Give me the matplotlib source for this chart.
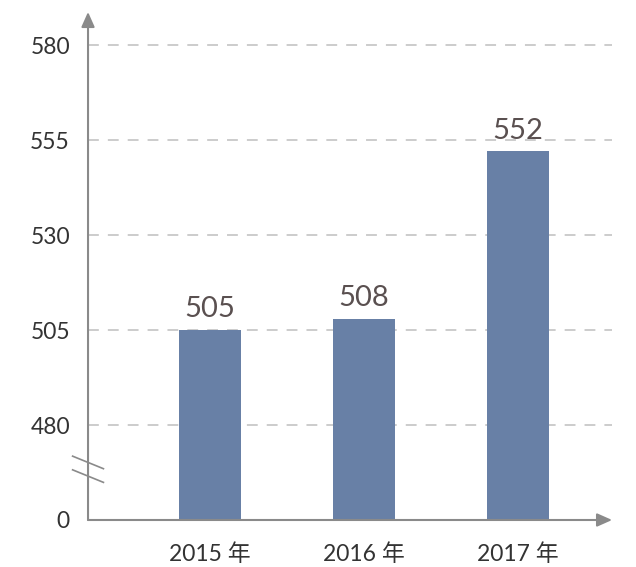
import matplotlib.pyplot as plt

plt.rcParams['font.family'] = ['Lato', 'Noto Sans CJK SC', 'DejaVu Sans']

years = ['2015 年', '2016 年', '2017 年']
values = [505, 508, 552]
tick_values = [455, 480, 505, 530, 555, 580]
tick_labels = ['0', '480', '505', '530', '555', '580']

fig = plt.figure(figsize=(6.36, 5.67), dpi=100)
ax = fig.add_axes([0.1384, 0.0829, 0.824, 0.896])

x = range(len(years))
ax.bar(x, values, width=0.4, bottom=0, color='#6880a6', zorder=3)
for xi, v in zip(x, values):
    ax.text(xi, v + 2, str(v), ha='center', va='bottom',
            fontsize=21, color='#5a5050')

ax.set_xlim(-0.79, 2.61)
ax.set_ylim(455, 588.7)
ax.set_yticks(tick_values)
ax.set_yticklabels(tick_labels)
ax.set_xticks(list(x))
ax.set_xticklabels(years)
ax.tick_params(axis='y', length=0, pad=13, labelsize=16.5, labelcolor='#333333')
ax.tick_params(axis='x', length=0, pad=17, labelsize=16.5, labelcolor='#333333')

for t in tick_values[1:]:
    ax.axhline(t, color='#c8c8c8', lw=1.3, ls=(0, (6, 5)), zorder=1)

for s in ax.spines.values():
    s.set_visible(False)

# axes with arrow heads
ax.annotate('', xy=(0, 1), xytext=(0, 0), xycoords='axes fraction',
            arrowprops=dict(arrowstyle='-|>,head_length=0.9,head_width=0.4',
                            color='#8a8a8a', lw=1.5, shrinkA=0, shrinkB=0))
ax.annotate('', xy=(1, 0), xytext=(0, 0), xycoords='axes fraction',
            arrowprops=dict(arrowstyle='-|>,head_length=0.9,head_width=0.4',
                            color='#8a8a8a', lw=1.5, shrinkA=0, shrinkB=0))

# axis break marks
for y0 in (471.8, 468.2):
    ax.plot([-0.89, -0.69], [y0, y0 - 3.3], color='#8a8a8a', lw=1.2,
            clip_on=False, zorder=4)

fig.savefig('out.png', dpi=100)
